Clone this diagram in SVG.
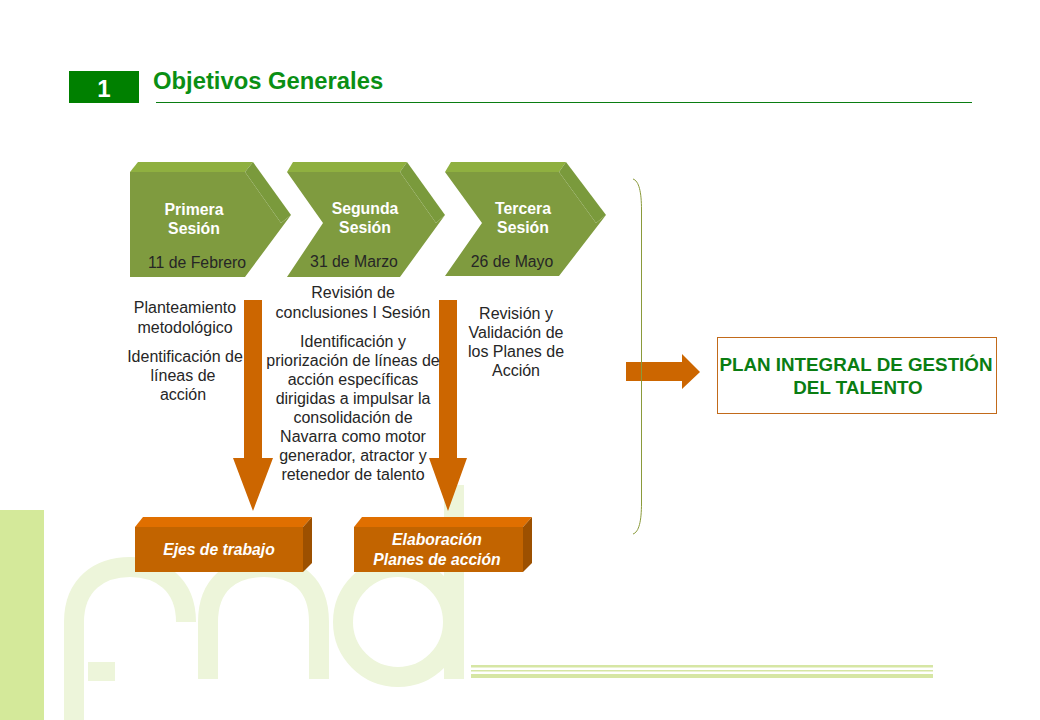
<svg xmlns="http://www.w3.org/2000/svg" width="1040" height="720" viewBox="0 0 1040 720">
<style>
text{font-family:"Liberation Sans",Arial,sans-serif;text-anchor:middle}
.b{font-size:16px;fill:#262626}
.s{font-size:15.8px;font-weight:bold;fill:#fff}
.d{font-size:15.8px;fill:#262626}
.o{font-size:15.7px;font-weight:bold;font-style:italic;fill:#fff}
.p{font-size:18.8px;font-weight:bold;fill:#0a7d12}
.front{fill:#7f9b3f}.top{fill:#8fb040}.side{fill:#7a9a3c}
.ofront{fill:#c26400}.otop{fill:#e06f00}.oside{fill:#9c5000}
.arrow{fill:#cc6600}
.wm{fill:none;stroke:#edf5da;stroke-width:20}
.wf{fill:#edf5da}
</style>
<g id="background">
<rect x="0" y="510" width="44" height="210" fill="#d4e99a"/>
<path class="wm" d="M74 720V622C74 584 100 567 130 567C160 567 186 584 186 622"/>
<rect class="wf" x="88" y="662" width="27" height="19"/>
<path class="wm" d="M208 679V622C208 584 232 567 264 567C296 567 319 584 319 622V679"/>
<ellipse class="wm" cx="398" cy="622" rx="55" ry="55"/>
<rect class="wf" x="444" y="485" width="20" height="194"/>
<rect x="471" y="665" width="462" height="2.5" fill="#d6e6a4"/>
<rect x="471" y="670" width="462" height="1.5" fill="#d6e6a4"/>
<rect x="471" y="674" width="462" height="4" fill="#d6e6a4"/>
</g>
<g id="header">
<rect x="69" y="71" width="70" height="32" fill="#008000"/>
<text x="104" y="97" font-size="24" font-weight="bold" fill="#fff">1</text>
<text x="153" y="89" font-size="23.8" font-weight="bold" fill="#0a8f14" style="text-anchor:start">Objetivos Generales</text>
<rect x="156" y="102" width="816" height="1" fill="#0a7d12"/>
</g>
<g id="sesion1">
<polygon class="front" points="130,172 245,172 281,223 291,215 245,277 130,277"/>
<polygon class="top" points="130,172 138,162 253,162 245,172"/>
<polygon class="side" points="245,172 253,162 291,215 281,223"/>
<text class="s" x="194" y="215">Primera</text><text class="s" x="194" y="234">Sesión</text>
<text class="d" x="197" y="268">11 de Febrero</text>
</g>
<g id="sesion2">
<polygon class="front" points="287,172 400,172 436,223 445,215 400,277 287,277 323,223"/>
<polygon class="top" points="287,172 293,162 407,162 400,172"/>
<polygon class="side" points="400,172 407,162 445,215 436,223"/>
<text class="s" x="365" y="214">Segunda</text><text class="s" x="365" y="233">Sesión</text>
<text class="d" x="354" y="267">31 de Marzo</text>
</g>
<g id="sesion3">
<polygon class="front" points="445,172 559,172 596,223 606,215 559,276 445,276 482,223"/>
<polygon class="top" points="445,172 451,162 566,162 559,172"/>
<polygon class="side" points="559,172 566,162 606,215 596,223"/>
<text class="s" x="523" y="214">Tercera</text><text class="s" x="523" y="233">Sesión</text>
<text class="d" x="512" y="267">26 de Mayo</text>
</g>
<g id="connectors">
<polygon class="arrow" points="244,300 262,300 262,458 273,458 253,511 233,458 244,458"/>
<polygon class="arrow" points="439,300 457,300 457,458 467,458 448,511 429,458 439,458"/>
<polygon class="arrow" points="626,362 682,362 682,354 700,372 682,389 682,381 626,381"/>
<path d="M633 179C639 181 641.5 192 641.5 210V503C641.5 521 639 532 633 534" fill="none" stroke="#8a9a3a" stroke-width="1"/>
</g>
<g id="texto1">
<text class="b" x="185" y="313">Planteamiento</text><text class="b" x="185" y="333">metodológico</text>
<text class="b" x="185" y="362">Identificación de</text><text class="b" x="183" y="381">líneas  de</text><text class="b" x="183" y="400">acción</text>
</g>
<g id="texto2">
<text class="b" x="353" y="298">Revisión de</text><text class="b" x="353" y="318">conclusiones I Sesión</text>
<text class="b" x="353" y="347">Identificación y</text><text class="b" x="353" y="366">priorización de líneas de</text><text class="b" x="353" y="385">acción específicas</text><text class="b" x="353" y="404">dirigidas a impulsar la</text><text class="b" x="353" y="423">consolidación de</text><text class="b" x="353" y="442">Navarra como motor</text><text class="b" x="353" y="461">generador, atractor y</text><text class="b" x="353" y="480">retenedor de talento</text>
</g>
<g id="texto3">
<text class="b" x="516" y="319">Revisión y</text><text class="b" x="516" y="338">Validación de</text><text class="b" x="516" y="357">los Planes de</text><text class="b" x="516" y="376">Acción</text>
</g>
<g id="ejes">
<polygon class="otop" points="135,527 143,517 312,517 303,527"/>
<polygon class="oside" points="303,527 312,517 312,563 303,572"/>
<rect class="ofront" x="135" y="527" width="168" height="45"/>
<text class="o" x="219" y="555">Ejes de trabajo</text>
</g>
<g id="elaboracion">
<polygon class="otop" points="354,527 362,517 532,517 523,527"/>
<polygon class="oside" points="523,527 532,517 532,563 523,572"/>
<rect class="ofront" x="354" y="527" width="169" height="45"/>
<text class="o" x="437" y="545">Elaboración</text><text class="o" x="437" y="565">Planes de acción</text>
</g>
<g id="plan">
<rect x="717.5" y="337.5" width="279" height="76" fill="#fff" stroke="#c26a1a"/>
<text class="p" x="856" y="371">PLAN INTEGRAL DE GESTIÓN</text>
<text class="p" x="858" y="394">DEL TALENTO</text>
</g>
</svg>
